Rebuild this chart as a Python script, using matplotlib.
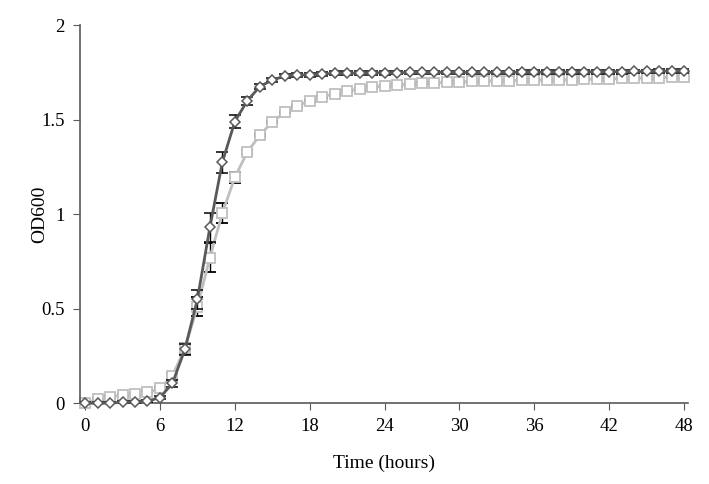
import numpy as np
import matplotlib
matplotlib.use('Agg')
import matplotlib.pyplot as plt

plt.rcParams['font.family'] = ['Liberation Serif', 'DejaVu Serif']

# hourly readings, 0..48 h
hours = list(range(49))

od_dark = [0.0, 0.0, 0.0, 0.005, 0.005, 0.01, 0.03, 0.105, 0.285, 0.55,
           0.93, 1.275, 1.49, 1.60, 1.675, 1.71, 1.73, 1.735, 1.738, 1.742,
           1.745, 1.745, 1.747, 1.748, 1.748, 1.749, 1.75, 1.75, 1.75, 1.75,
           1.75, 1.75, 1.75, 1.75, 1.75, 1.751, 1.751, 1.752, 1.752, 1.752,
           1.753, 1.753, 1.754, 1.754, 1.755, 1.755, 1.756, 1.757, 1.758]
err_dark = [0.005, 0.005, 0.005, 0.005, 0.005, 0.005, 0.01, 0.02, 0.03, 0.05,
            0.075, 0.055, 0.035, 0.02, 0.012] + [0.01] * 34

od_light = [0.0, 0.02, 0.033, 0.045, 0.047, 0.057, 0.078, 0.145, 0.29, 0.51,
            0.77, 1.005, 1.195, 1.328, 1.418, 1.488, 1.538, 1.572, 1.600, 1.620,
            1.638, 1.652, 1.663, 1.672, 1.678, 1.683, 1.688, 1.692, 1.695, 1.698,
            1.700, 1.702, 1.704, 1.706, 1.707, 1.708, 1.709, 1.710, 1.711, 1.712,
            1.713, 1.715, 1.716, 1.718, 1.720, 1.721, 1.723, 1.725, 1.727]
err_light = [0.005] * 7 + [0.015, 0.03, 0.05, 0.075, 0.053, 0.03, 0.01] + [0.005] * 35

x_ticks = [0, 6, 12, 18, 24, 30, 36, 42, 48]
y_ticks = [0, 0.5, 1, 1.5, 2]
y_labels = ['0', '0.5', '1', '1.5', '2']

fig = plt.figure(figsize=(7.09, 4.84), dpi=100)
ax = fig.add_axes([0.113, 0.167, 0.857, 0.781])

light = ax.errorbar(hours, od_light, yerr=err_light, color='#bfbfbf', lw=2,
                    marker='s', ms=6.8, mfc='white', mec='#bfbfbf', mew=1.3,
                    ecolor='black', elinewidth=1, capsize=4, zorder=2)
dark = ax.errorbar(hours, od_dark, yerr=err_dark, color='#595959', lw=2,
                   marker='D', ms=4.8, mfc='white', mec='#595959', mew=1.1,
                   ecolor='black', elinewidth=1, capsize=4, zorder=3)
for container in (light, dark):
    for artist in container.lines[:1]:
        artist.set_clip_on(False)

ax.set_xlim(-0.4, 48.3)
ax.set_ylim(0, 2)
ax.set_xticks(x_ticks)
ax.set_yticks(y_ticks)
ax.set_yticklabels(y_labels)
for s in ['top', 'right']:
    ax.spines[s].set_visible(False)
for s in ['left', 'bottom']:
    ax.spines[s].set_color('#595959')
    ax.spines[s].set_linewidth(1.2)
ax.tick_params(direction='out', length=5, color='#595959', labelsize=13.5, pad=6)

ax.set_xlabel('Time (hours)', fontsize=14, labelpad=14)
ax.set_ylabel('OD600', fontsize=14)
ax.yaxis.set_label_coords(-0.053, 0.5)

fig.savefig('out.png', dpi=100)
